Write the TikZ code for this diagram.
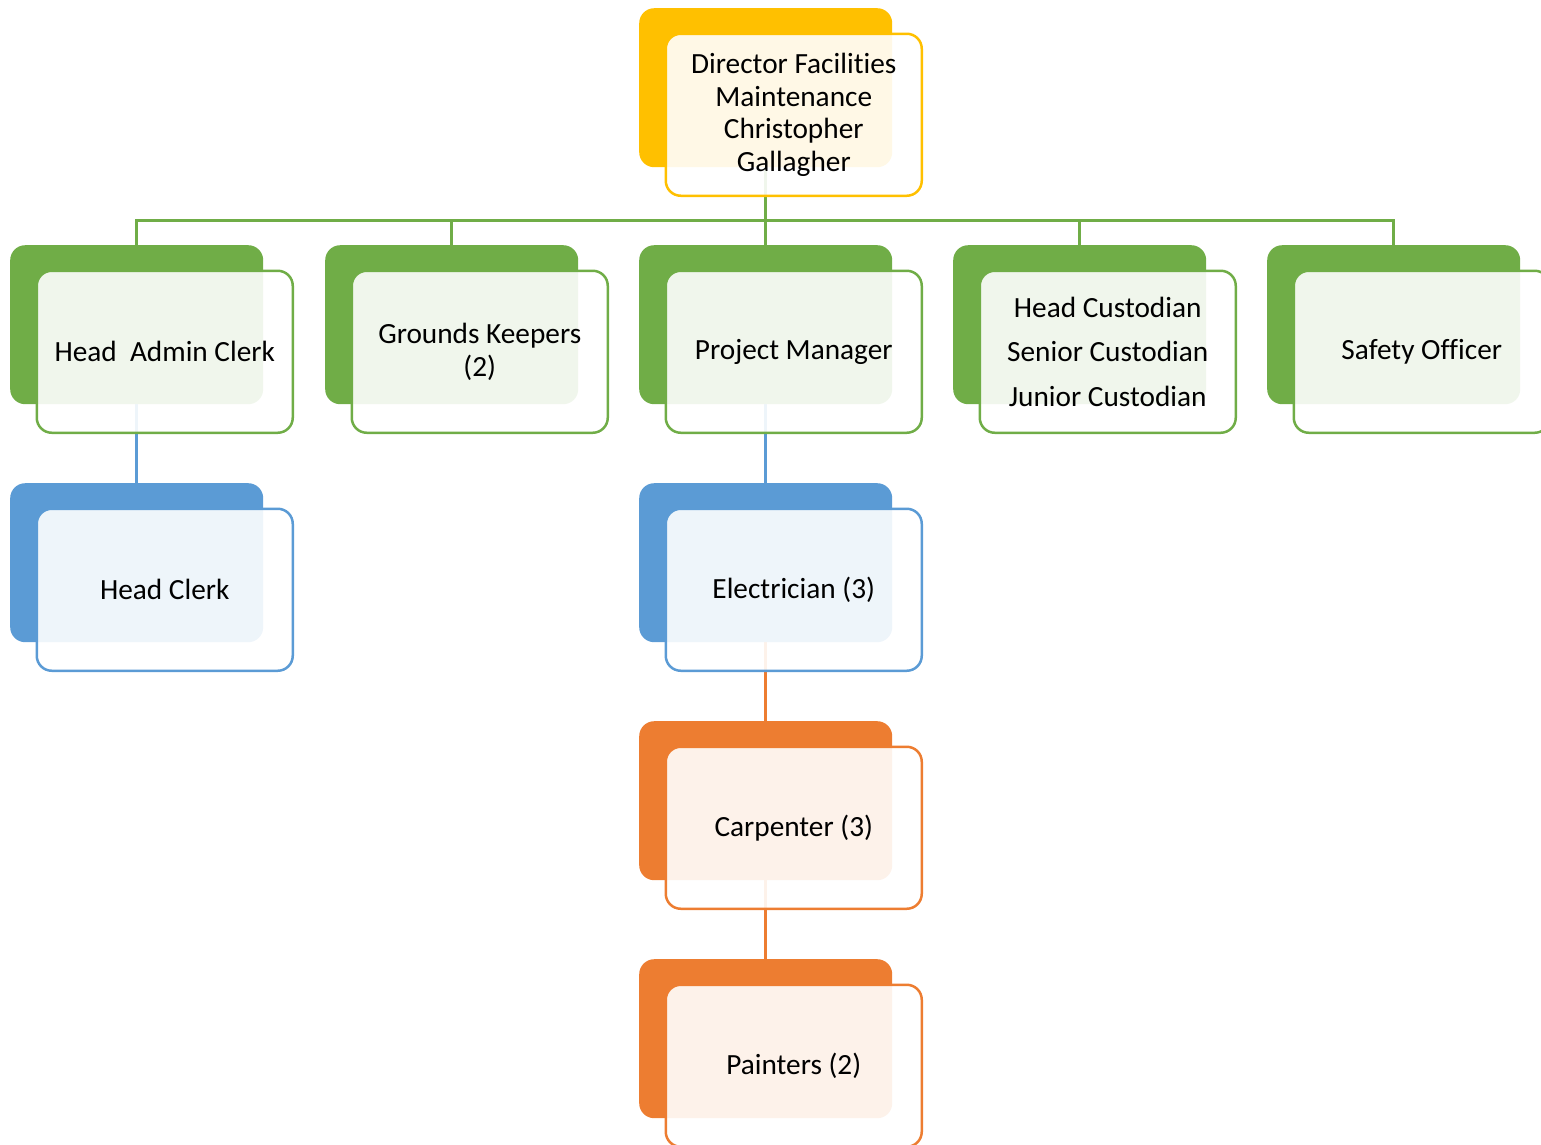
\documentclass[tikz,border=0pt]{standalone}
\usepackage{fontspec}
\setmainfont{Carlito}[Ligatures=CommonOff]
\pgfdeclarelayer{bg}
\pgfsetlayers{bg,main}
\definecolor{gold}{HTML}{FFC000}
\definecolor{leaf}{HTML}{70AD47}
\definecolor{sky}{HTML}{5B9BD5}
\definecolor{rust}{HTML}{ED7D31}
\tikzset{
  backbox/.style={fill=#1, draw=none, rounded corners=15pt,
    minimum width=253pt, minimum height=159pt, inner sep=0pt, anchor=north west},
  frontbox/.style={draw=#1, line width=2.5pt, fill=white, fill opacity=0.9,
    text opacity=1, rounded corners=15pt, minimum width=256pt,
    minimum height=162pt, inner sep=0pt, anchor=north west, align=center,
    font=\fontsize{29.3}{32.5}\selectfont},
  link/.style={draw=#1, line width=2.5pt},
}
% one chart entry: solid back card plus a translucent outlined front card
% #1 name, #2 top-left of the back card, #3 colour, #4 label
\newcommand\orgunit[4]{%
  \node[backbox=#3] (#1-back) at (#2) {};
  \node[frontbox=#3] (#1) at ([shift={(25.5,24.5)}]#1-back.north west) {#4};
}
\begin{document}
\begin{tikzpicture}[x=1pt, y=-1pt]
\useasboundingbox (0,0) rectangle (1541,1144);

\orgunit{dir}{639,8}{gold}{Director Facilities\\Maintenance\\Christopher\\Gallagher}

\orgunit{admin}{10,245}{leaf}{Head\ \ Admin Clerk}
\orgunit{grounds}{325,245}{leaf}{Grounds Keepers\\(2)}
\orgunit{pm}{639,245}{leaf}{Project Manager}
\orgunit{cust}{953,245}{leaf}{Head Custodian\\[12pt]Senior Custodian\\[12pt]Junior Custodian}
\orgunit{safety}{1267,245}{leaf}{Safety Officer}

\orgunit{clerk}{10,483}{sky}{Head Clerk}
\orgunit{elec}{639,483}{sky}{Electrician (3)}
\orgunit{carp}{639,721}{rust}{Carpenter (3)}
\orgunit{paint}{639,959}{rust}{Painters (2)}

\begin{pgfonlayer}{bg}
  \coordinate (bus) at ([yshift=-53pt]dir-back.south);
  \draw[link=leaf] (dir-back.south) -- (bus);
  \foreach \n in {admin,grounds,pm,cust,safety}
    \draw[link=leaf] (bus) -| (\n-back.north);
  \draw[link=sky] (admin-back.south) -- (clerk-back.north);
  \draw[link=sky] (pm-back.south) -- (elec-back.north);
  \draw[link=rust] (elec-back.south) -- (carp-back.north);
  \draw[link=rust] (carp-back.south) -- (paint-back.north);
\end{pgfonlayer}
\end{tikzpicture}
\end{document}
